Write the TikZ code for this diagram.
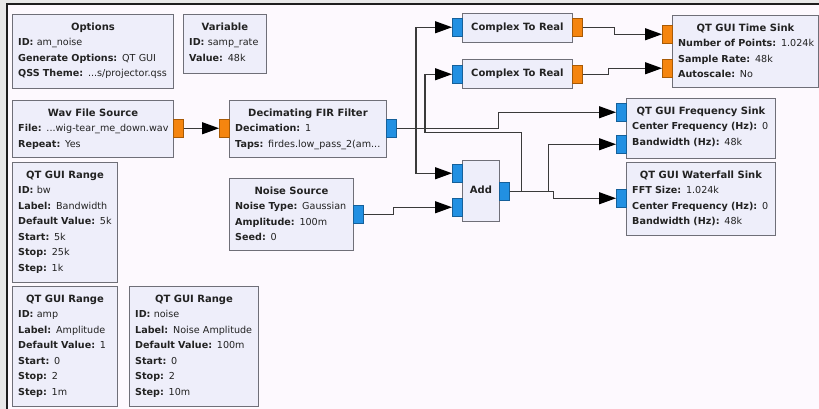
\documentclass[tikz,border=0pt]{standalone}
\usepackage{fontspec}
\setmainfont{DejaVu Sans}
\usetikzlibrary{arrows.meta}
\definecolor{canvas}{HTML}{FDF9FE}
\definecolor{outer}{HTML}{E8E8E8}
\definecolor{framec}{HTML}{1E1E1E}
\definecolor{boxfill}{HTML}{EEEEFA}
\definecolor{boxline}{HTML}{6F6F78}
\definecolor{porto}{HTML}{F5850F}
\definecolor{portob}{HTML}{A85A05}
\definecolor{portb}{HTML}{2290E2}
\definecolor{portbb}{HTML}{15609A}
\definecolor{wirec}{HTML}{3A3A3A}
\definecolor{txt}{HTML}{222222}
\tikzset{
  blockbox/.style={draw=boxline, fill=boxfill, line width=0.9pt, anchor=north west,
    inner sep=0pt},
  blocktitle/.style={anchor=base, inner sep=0pt, text=txt,
    font=\fontsize{10}{12}\selectfont\bfseries},
  blocklines/.style={anchor=base west, inner sep=0pt, text=txt, text width=200pt,
    align=left, font=\fontsize{9.6}{15.5}\selectfont},
  oport/.style={draw=portob, fill=porto, line width=0.5pt, anchor=north west,
    minimum width=10pt, minimum height=18pt, inner sep=0pt},
  bport/.style={draw=portbb, fill=portb, line width=0.5pt, anchor=north west,
    minimum width=10pt, minimum height=18pt, inner sep=0pt},
  wire/.style={draw=wirec, line width=1.2pt,
    -{Triangle[length=17pt,width=12pt,color=black]}}
}
\newcommand\grcblock[7]{%
  \node[blockbox, minimum width=#4pt, minimum height=#5pt] (#1) at (#2,#3) {};
  \node[blocktitle] (#1-t) at ([yshift=-16.5pt]#1.north) {#6};
  \node[blocklines] (#1-l) at ([xshift=6pt,yshift=-31.7pt]#1.north west) {#7};}
\newcommand\grctitled[6]{%
  \node[blockbox, minimum width=#4pt, minimum height=#5pt] (#1) at (#2,#3) {};
  \node[blocktitle] (#1-t) at ([yshift=-17.5pt]#1.north) {#6};}
\begin{document}
\begin{tikzpicture}[x=1pt,y=-1pt]
\useasboundingbox (0,0) rectangle (819,409);
\fill[outer] (0,0) rectangle (819,409);
\fill[canvas] (7,4) rectangle (819,409);
\draw[framec, line width=1.3pt] (7,409) -- (7,4) -- (819,4);

\grcblock{opt}{12}{14}{161}{74}{Options}{\textbf{ID:} am\_noise\\\textbf{Generate Options:} QT GUI\\\textbf{QSS Theme:} ...s/projector.qss}
\grcblock{var}{183}{14}{83}{59}{Variable}{\textbf{ID:} samp\_rate\\\textbf{Value:} 48k}
\grcblock{wav}{12}{100}{161}{57}{Wav File Source}{\textbf{File:} ...wig-tear\_me\_down.wav\\\textbf{Repeat:} Yes}
\grcblock{fir}{229}{100}{157}{57}{Decimating FIR Filter}{\textbf{Decimation:} 1\\\textbf{Taps:} firdes.low\_pass\_2(am...}
\grcblock{bw}{12}{162}{105}{120}{QT GUI Range}{\textbf{ID:} bw\\\textbf{Label:} Bandwidth\\\textbf{Default Value:} 5k\\\textbf{Start:} 5k\\\textbf{Stop:} 25k\\\textbf{Step:} 1k}
\grcblock{noise}{229}{178}{124}{72}{Noise Source}{\textbf{Noise Type:} Gaussian\\\textbf{Amplitude:} 100m\\\textbf{Seed:} 0}
\grcblock{amp}{12}{286}{105}{120}{QT GUI Range}{\textbf{ID:} amp\\\textbf{Label:} Amplitude\\\textbf{Default Value:} 1\\\textbf{Start:} 0\\\textbf{Stop:} 2\\\textbf{Step:} 1m}
\grcblock{nrng}{129}{286}{129}{120}{QT GUI Range}{\textbf{ID:} noise\\\textbf{Label:} Noise Amplitude\\\textbf{Default Value:} 100m\\\textbf{Start:} 0\\\textbf{Stop:} 2\\\textbf{Step:} 10m}
\grctitled{ctr1}{462}{13}{110}{29}{Complex To Real}
\grctitled{ctr2}{462}{59}{110}{29}{Complex To Real}
\node[blockbox, minimum width=37pt, minimum height=61pt] (add) at (462,160) {};
\node[blocktitle] (add-t) at ([yshift=-33pt]add.north) {Add};
\grcblock{time}{672}{15}{146}{72}{QT GUI Time Sink}{\textbf{Number of Points:} 1.024k\\\textbf{Sample Rate:} 48k\\\textbf{Autoscale:} No}
\grcblock{freq}{626}{98}{149}{60}{QT GUI Frequency Sink}{\textbf{Center Frequency (Hz):} 0\\\textbf{Bandwidth (Hz):} 48k}
\grcblock{water}{626}{162}{149}{73}{QT GUI Waterfall Sink}{\textbf{FFT Size:} 1.024k\\\textbf{Center Frequency (Hz):} 0\\\textbf{Bandwidth (Hz):} 48k}

\node[oport] (wavout) at (173,119) {};
\node[oport] (firin) at (219,119) {};
\node[bport] (firout) at (386,119) {};
\node[bport] (noiseout) at (353,205) {};
\node[bport] (c1in) at (452,18) {};
\node[oport] (c1out) at (572,18) {};
\node[bport] (c2in) at (452,65) {};
\node[oport] (c2out) at (572,65) {};
\node[bport] (add0) at (452,164) {};
\node[bport] (add1) at (452,198) {};
\node[bport] (addout) at (499,182) {};
\node[oport] (t0) at (662,25) {};
\node[oport] (t1) at (662,59) {};
\node[bport] (f0) at (616,103) {};
\node[bport] (f1) at (616,135) {};
\node[bport] (w0) at (616,189) {};

\draw[wire] (wavout.east) -- (firin.west);
\draw[wire] (firout.east) -| ([xshift=-36pt]c1in.west) -- (c1in.west);
\draw[wire] (firout.east) -| ([xshift=-36pt]add0.west) -- (add0.west);
\draw[wire] (firout.east) -- ++(102,0) |- (f0.west);
\draw[wire] (addout.east) -- ++(12,0) -- ++(0,-59) -| ([xshift=-27pt]c2in.west) -- (c2in.west);
\draw[wire] (addout.east) -- ++(39,0) |- (f1.west);
\draw[wire] (addout.east) -- ++(44,0) |- (w0.west);
\draw[wire] (noiseout.east) -- ++(30,0) |- (add1.west);
\draw[wire] (c1out.east) -- ++(32,0) |- (t0.west);
\draw[wire] (c2out.east) -- ++(26,0) |- (t1.west);
\end{tikzpicture}
\end{document}
